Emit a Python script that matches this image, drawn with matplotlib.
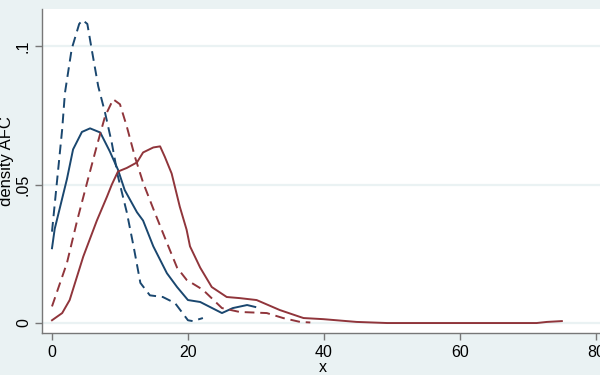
import matplotlib.pyplot as plt

plt.rcParams["font.family"] = ["Liberation Sans", "DejaVu Sans"]

BG = "#EAF2F3"
NAVY = "#1A476F"
MAROON = "#90353B"

# navy, solid
navy_solid_x = [0, 0.4, 1.9, 2.2, 3.1, 4.4, 5.6, 7.1, 8.5, 9.7, 10.7, 12.5, 13.4, 14.9,
                16.9, 18.4, 20.0, 21.8, 25.0, 26.6, 28.7, 29.9]
navy_solid_y = [0.027, 0.034, 0.049, 0.052, 0.0627, 0.069, 0.0703, 0.0688, 0.062, 0.0554,
                0.048, 0.040, 0.037, 0.0277, 0.018, 0.013, 0.0083, 0.0076, 0.0036, 0.0054,
                0.0065, 0.0058]

# navy, dashed
navy_dash_x = [0, 1.5, 1.9, 2.9, 4.0, 4.5, 5.2, 5.9, 6.8, 7.8, 8.8, 9.7, 11.0, 12.0, 13.0,
               14.4, 16.3, 18.1, 20.0, 20.7, 22.2]
navy_dash_y = [0.033, 0.070, 0.083, 0.099, 0.108, 0.1094, 0.108, 0.098, 0.0855, 0.076,
               0.065, 0.053, 0.040, 0.0277, 0.0145, 0.010, 0.0094, 0.0072, 0.001, 0.0007,
               0.0018]

# maroon, solid
maroon_solid_x = [0, 1.5, 2.6, 4.6, 6.6, 8.1, 8.8, 9.7, 11.0, 12.5, 13.4, 14.9, 15.9, 16.6,
                  17.6, 18.8, 19.8, 20.3, 21.8, 23.5, 25.7, 27.6, 30.1, 33.5, 36.5, 37.0,
                  39.9, 44.8, 49.3, 60.0, 71.3, 72.8, 75.0]
maroon_solid_y = [0.001, 0.0036, 0.0083, 0.024, 0.037, 0.0457, 0.050, 0.0547, 0.056, 0.058,
                  0.0616, 0.0634, 0.0638, 0.060, 0.054, 0.042, 0.0337, 0.0277, 0.020, 0.013,
                  0.0094, 0.009, 0.0083, 0.0047, 0.0022, 0.0018, 0.0014, 0.0004, 0.0, 0.0,
                  0.0, 0.0004, 0.0007]

# maroon, dashed
maroon_dash_x = [0, 2.2, 3.7, 5.3, 6.6, 7.8, 9.0, 10.0, 11.0, 12.2, 13.4, 15.1, 16.9, 18.4,
                 19.8, 22.2, 25.0, 27.6, 31.6, 34.0, 36.5, 38.0]
maroon_dash_y = [0.006, 0.0217, 0.037, 0.052, 0.064, 0.0746, 0.0808, 0.079, 0.071, 0.060,
                 0.0507, 0.040, 0.029, 0.020, 0.0156, 0.012, 0.0054, 0.004, 0.0036, 0.0018,
                 0.0004, 0.0002]

y_ticks = [0, 0.05, 0.1]
y_ticklabels = ["0", ".05", ".1"]
x_ticks = [0, 20, 40, 60, 80]

fig = plt.figure(figsize=(6, 3.75), dpi=100, facecolor=BG)
ax = fig.add_axes([42 / 600, 42 / 375, 562 / 600, 324 / 375])
ax.set_facecolor("white")

for y in y_ticks:
    ax.axhline(y, color=BG, lw=1.6, zorder=0)

lw = 1.4
ax.plot(navy_solid_x, navy_solid_y, color=NAVY, lw=lw)
ax.plot(navy_dash_x, navy_dash_y, color=NAVY, lw=lw, dashes=(5, 3))
ax.plot(maroon_solid_x, maroon_solid_y, color=MAROON, lw=lw)
ax.plot(maroon_dash_x, maroon_dash_y, color=MAROON, lw=lw, dashes=(5, 3))

ax.set_xlim(-1.47, 81.2)
ax.set_ylim(-0.0036, 0.1134)

ax.set_yticks(y_ticks)
ax.set_yticklabels(y_ticklabels, rotation=90, va="center")
ax.set_xticks(x_ticks)

for side in ("top", "right"):
    ax.spines[side].set_visible(False)
for side in ("left", "bottom"):
    ax.spines[side].set_color("#777777")
    ax.spines[side].set_linewidth(1.0)
ax.tick_params(axis="both", colors="#777777", length=5, width=1.0, labelsize=11.5,
               labelcolor="black")
ax.tick_params(axis="y", pad=3)

ax.set_ylabel("density AFC", fontsize=12, va="center")
ax.yaxis.set_label_coords(-0.063, 0.53)
ax.set_xlabel("x", fontsize=11.5, labelpad=0)

fig.savefig("out.png", dpi=100, facecolor=BG)
